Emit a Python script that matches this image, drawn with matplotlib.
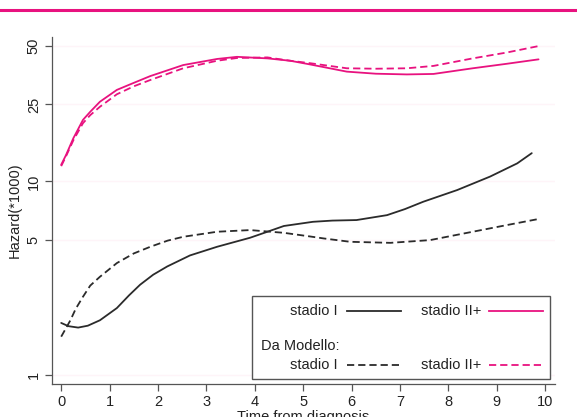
import numpy as np
import matplotlib
matplotlib.use("Agg")
import matplotlib.pyplot as plt
from matplotlib.lines import Line2D
from matplotlib.patches import Rectangle

plt.rcParams['font.family'] = ['Liberation Sans', 'DejaVu Sans']

PINK = '#e8127f'
DARK = '#2b2b2b'

# stadio I, observed
t_s1 = [0, 0.15, 0.35, 0.55, 0.8, 1.15, 1.4, 1.63, 1.9, 2.19, 2.66, 3.22, 3.9, 4.26, 4.6,
        5.2, 5.6, 6.1, 6.73, 7.1, 7.48, 8.18, 8.86, 9.42, 9.72]
h_s1 = [1.86, 1.79, 1.76, 1.80, 1.92, 2.22, 2.58, 2.93, 3.30, 3.64, 4.15, 4.60, 5.12, 5.5, 5.89,
        6.19, 6.28, 6.32, 6.7, 7.2, 7.86, 9.03, 10.6, 12.4, 14.0]

# stadio I, model
t_m1 = [0, 0.1, 0.19, 0.3, 0.45, 0.6, 0.8, 1.15, 1.5, 1.84, 2.2, 2.52, 3.22, 3.9, 4.6, 5.14,
        5.42, 5.97, 6.8, 7.62, 8.5, 9.2, 9.86]
h_m1 = [1.58, 1.75, 1.92, 2.2, 2.54, 2.9, 3.22, 3.79, 4.25, 4.6, 4.95, 5.18, 5.50, 5.61, 5.43,
        5.2, 5.08, 4.88, 4.82, 4.98, 5.5, 5.95, 6.4]

# stadio II+, observed
t_s2 = [0, 0.1, 0.25, 0.45, 0.6, 0.8, 1.15, 1.5, 1.84, 2.52, 3.22, 3.63, 4.26, 4.73, 5.14, 5.9,
        6.5, 7.14, 7.69, 8.5, 9.2, 9.86]
h_s2 = [12.2, 13.7, 16.7, 20.8, 22.9, 25.8, 29.7, 32.3, 35.0, 39.9, 42.9, 44.0, 43.2, 42.0, 40.2,
        36.9, 36.0, 35.7, 35.9, 38.4, 40.5, 42.7]

# stadio II+, model
t_m2 = [0, 0.1, 0.25, 0.45, 0.6, 0.8, 1.15, 1.5, 1.84, 2.52, 3.22, 3.63, 4.26, 4.73, 5.14, 5.9,
        6.5, 7.14, 7.69, 8.5, 9.2, 9.86]
h_m2 = [12.0, 13.5, 16.3, 20.0, 22.0, 24.3, 28.2, 31.0, 33.4, 38.4, 42.0, 43.4, 43.7, 42.0, 40.8,
        38.4, 38.2, 38.4, 39.5, 43.2, 46.3, 50.0]

yticks = [1, 5, 10, 25, 50]
xticks = list(range(0, 11))

fig = plt.figure(figsize=(5.77, 4.17), dpi=100)
ax = fig.add_axes([52 / 577, 33 / 417, 503 / 577, 347 / 417])

fig.add_artist(Line2D([0, 1], [1 - 10 / 417, 1 - 10 / 417], transform=fig.transFigure,
                      color=PINK, lw=2.2))

for y in yticks:
    ax.axhline(y, color='#fef4f8', lw=1.0, zorder=0)

dash = (4, 2.2)
style = dict(lw=1.3, solid_joinstyle='round', solid_capstyle='round')
ax.plot(t_s1, h_s1, color=DARK, **style)
ax.plot(t_m1, h_m1, color=DARK, ls='--', dashes=dash, **style)
ax.plot(t_s2, h_s2, color=PINK, **style)
ax.plot(t_m2, h_m2, color=PINK, ls='--', dashes=dash, **style)

ax.set_yscale('log')
ax.set_ylim(0.9, 55.7)
ax.set_xlim(-0.19, 10.2)
ax.set_yticks(yticks)
ax.set_yticklabels([str(v) for v in yticks], rotation=90, va='center')
ax.yaxis.set_minor_locator(matplotlib.ticker.NullLocator())
ax.set_xticks(xticks)

for s in ['top', 'right']:
    ax.spines[s].set_visible(False)
for s in ['left', 'bottom']:
    ax.spines[s].set_color('#555555')
    ax.spines[s].set_linewidth(0.9)
ax.tick_params(direction='out', length=5, width=0.9, color='#555555', labelsize=10.5,
               labelcolor='#222222', pad=3)

ax.set_ylabel('Hazard(*1000)', fontsize=10.5, color='#222222', labelpad=4)
ax.set_xlabel('Time from diagnosis', fontsize=10.5, color='#222222', labelpad=1)

# legend box drawn in axes fraction
def fx(px):
    return (px - 52) / 503

def fy(py):
    return (384 - py) / 347

tr = ax.transAxes
ax.add_patch(Rectangle((fx(252), fy(379)), fx(550) - fx(252), fy(296) - fy(379),
                       transform=tr, facecolor='white', edgecolor='#555555', lw=1.0, zorder=5))
fs = 10.5
rows = [(310.7, '-'), (365, '--')]
for py, ls in rows:
    ax.text(fx(338), fy(py), 'stadio I', transform=tr, ha='right', va='center', fontsize=fs,
            color='#222222', zorder=6)
    ax.add_line(Line2D([fx(347), fx(401)], [fy(py), fy(py)], transform=tr, color=DARK, lw=1.3,
                       ls=ls, dashes=dash if ls == '--' else (None, None), zorder=6))
    ax.text(fx(481), fy(py), 'stadio II+', transform=tr, ha='right', va='center', fontsize=fs,
            color='#222222', zorder=6)
    ax.add_line(Line2D([fx(489), fx(543)], [fy(py), fy(py)], transform=tr, color=PINK, lw=1.3,
                       ls=ls, dashes=dash if ls == '--' else (None, None), zorder=6))
ax.text(fx(261), fy(346), 'Da Modello:', transform=tr, ha='left', va='center', fontsize=fs,
        color='#222222', zorder=6)

fig.savefig('out.png', dpi=100)
